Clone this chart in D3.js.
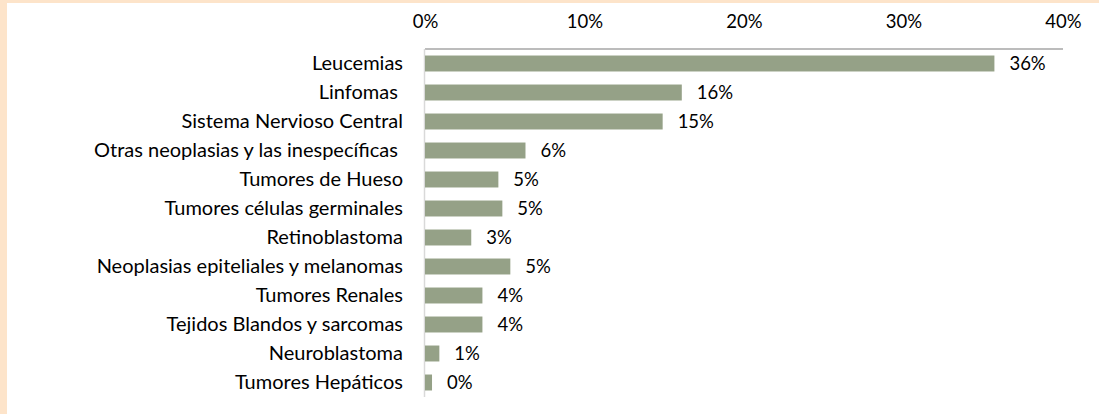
<!DOCTYPE html>
<html>
<head>
<meta charset="utf-8">
<script src="https://cdn.jsdelivr.net/npm/d3@7"></script>
<style>
  html, body { margin: 0; padding: 0; background: #fff; }
  svg { display: block; }
  text { font-family: Lato, "Open Sans", sans-serif; fill: #000; white-space: pre; }
</style>
</head>
<body>
<svg id="chart" width="1099" height="414"></svg>
<script>
// Childhood cancer distribution by type (share of cases)
const categories = [
  "Leucemias",
  "Linfomas ",
  "Sistema Nervioso Central",
  "Otras neoplasias y las inespecíficas ",
  "Tumores de Hueso",
  "Tumores células germinales",
  "Retinoblastoma",
  "Neoplasias epiteliales y melanomas",
  "Tumores Renales",
  "Tejidos Blandos y sarcomas",
  "Neuroblastoma",
  "Tumores Hepáticos"
];
const shares = [0.357, 0.161, 0.149, 0.063, 0.046, 0.0485, 0.029, 0.0535, 0.036, 0.036, 0.009, 0.0044];
const tickValues = [0, 0.1, 0.2, 0.3, 0.4];

const svg = d3.select("#chart");
const W = 1099, H = 414;

// Frame bands along the top and left edges
svg.append("rect").attr("x", 0).attr("y", 0).attr("width", W).attr("height", H).attr("fill", "#fff");
svg.append("rect").attr("x", 0).attr("y", 0).attr("width", W).attr("height", 3).attr("fill", "#FDE4CA");
svg.append("rect").attr("x", 0).attr("y", 0).attr("width", 7).attr("height", H).attr("fill", "#FDE4CA");

const plot = { left: 425, right: 1063, top: 49, bottom: 397 };

const x = d3.scaleLinear().domain([0, 0.4]).range([plot.left, plot.right]);
const y = d3.scaleBand().domain(categories).range([plot.top, plot.bottom]).paddingInner(0.45).paddingOuter(0.225);

const numSize = 18.5;
const catSize = 20;
const pct = d3.format(".0%");

// Top value axis
const xAxis = d3.axisTop(x).tickValues(tickValues).tickFormat(pct).tickSize(0).tickPadding(0);
const gx = svg.append("g").attr("transform", `translate(0,${plot.top})`).call(xAxis);
gx.select(".domain").remove();
gx.selectAll("text")
  .attr("y", 22 - plot.top)
  .attr("dy", "0.35em")
  .style("font-size", numSize + "px")
  .style("font-family", "Lato, 'Open Sans', sans-serif")
  .attr("fill", "#000");

svg.append("line")
  .attr("x1", plot.left).attr("x2", plot.right)
  .attr("y1", plot.top).attr("y2", plot.top)
  .attr("stroke", "#A6A6A6").attr("stroke-width", 1.5);

// Category axis
svg.append("line")
  .attr("x1", plot.left - 0.5).attr("x2", plot.left - 0.5)
  .attr("y1", plot.top).attr("y2", plot.bottom)
  .attr("stroke", "#D9D9D9").attr("stroke-width", 1.5);

const yAxis = d3.axisLeft(y).tickSize(0).tickPadding(22);
const gy = svg.append("g").attr("transform", `translate(${plot.left},0)`).call(yAxis);
gy.select(".domain").remove();
gy.selectAll("text")
  .style("font-size", catSize + "px")
  .style("font-family", "Lato, 'Open Sans', sans-serif")
  .style("white-space", "pre")
  .attr("fill", "#000");

// Bars
const rows = categories.map((c, i) => ({ c, v: shares[i] }));
svg.append("g").selectAll("rect").data(rows).join("rect")
  .attr("x", x(0))
  .attr("y", d => y(d.c))
  .attr("width", d => x(d.v) - x(0))
  .attr("height", y.bandwidth())
  .attr("fill", "#95A187");

// Value labels
svg.append("g").selectAll("text").data(rows).join("text")
  .attr("x", d => x(d.v) + 15)
  .attr("y", d => y(d.c) + y.bandwidth() / 2)
  .attr("dy", "0.35em")
  .style("font-size", numSize + "px")
  .text(d => pct(d.v));
</script>
</body>
</html>
